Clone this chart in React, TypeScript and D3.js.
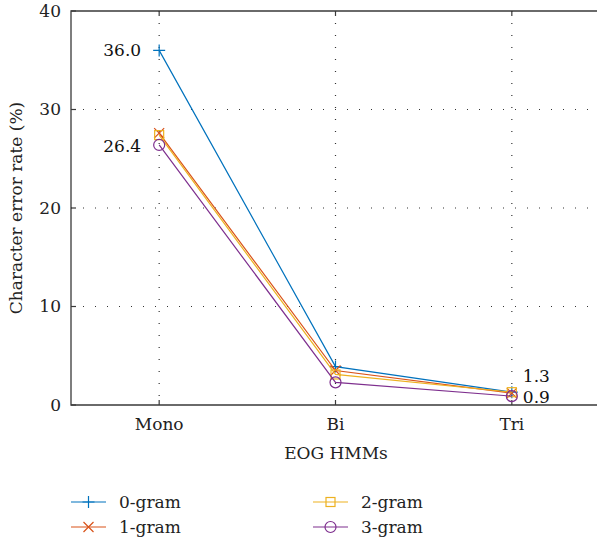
import React from "react";
import * as d3 from "d3";

const categories = ["Mono", "Bi", "Tri"];
const seriesNames = ["0-gram", "1-gram", "2-gram", "3-gram"];
const gram0 = [36.0, 3.9, 1.3];
const gram1 = [27.6, 3.5, 1.2];
const gram2 = [27.4, 3.1, 1.3];
const gram3 = [26.4, 2.3, 0.9];
const yTicks = [0, 10, 20, 30, 40];

const colors = ["#0072BD", "#D95319", "#EDB120", "#7E2F8E"];
const markers = ["plus", "cross", "square", "circle"];
const font = "DejaVu Serif";
const fs = 17;

const W = 597;
const H = 538;
const margin = { left: 71, top: 11, right: 600, bottom: 405 };

const Marker = ({ type, x, y, color }: { type: string; x: number; y: number; color: string }) => {
  if (type === "plus")
    return <path d={`M${x - 6},${y}H${x + 6}M${x},${y - 6}V${y + 6}`} stroke={color} strokeWidth={1.2} fill="none" />;
  if (type === "cross")
    return <path d={`M${x - 5},${y - 5}L${x + 5},${y + 5}M${x - 5},${y + 5}L${x + 5},${y - 5}`} stroke={color} strokeWidth={1.2} fill="none" />;
  if (type === "square")
    return <rect x={x - 4.5} y={y - 4.5} width={9} height={9} stroke={color} strokeWidth={1.2} fill="none" />;
  return <circle cx={x} cy={y} r={5.5} stroke={color} strokeWidth={1.2} fill="none" />;
};

const T = (props: any) => <text fontFamily={font} fontSize={fs} fill="#222" {...props} />;

export default function App() {
  const series = [gram0, gram1, gram2, gram3];
  const x = d3.scaleLinear().domain([0.5, 3.5]).range([margin.left, margin.right]);
  const y = d3.scaleLinear().domain([0, 40]).range([margin.bottom, margin.top]);
  const line = d3
    .line<number>()
    .x((_, i) => x(i + 1))
    .y((d) => y(d));

  return (
    <div style={{ position: "absolute", left: 0, top: 0 }}>
      <svg width={W} height={H} style={{ display: "block" }}>
        <rect width={W} height={H} fill="#fff" />
        {/* grid */}
        {yTicks.slice(1, -1).map((t) => (
          <line key={t} x1={margin.left} x2={margin.right} y1={y(t)} y2={y(t)} stroke="#333" strokeDasharray="1,11" strokeWidth={1.2} />
        ))}
        {categories.map((c, i) => (
          <line key={c} x1={x(i + 1)} x2={x(i + 1)} y1={margin.top} y2={margin.bottom} stroke="#333" strokeDasharray="1,11" strokeWidth={1.2} />
        ))}
        {/* axes */}
        <path
          d={`M${margin.right},${margin.top}H${margin.left}V${margin.bottom}H${margin.right}`}
          fill="none"
          stroke="#3a3a3a"
          strokeWidth={1.3}
        />
        {categories.map((c, i) => (
          <g key={c}>
            <line x1={x(i + 1)} x2={x(i + 1)} y1={margin.bottom} y2={margin.bottom - 5} stroke="#3a3a3a" strokeWidth={1.2} />
            <line x1={x(i + 1)} x2={x(i + 1)} y1={margin.top} y2={margin.top + 5} stroke="#3a3a3a" strokeWidth={1.2} />
            <T x={x(i + 1)} y={margin.bottom + 25} textAnchor="middle">
              {c}
            </T>
          </g>
        ))}
        {yTicks.map((t) => (
          <g key={t}>
            <line x1={margin.left} x2={margin.left + 5} y1={y(t)} y2={y(t)} stroke="#3a3a3a" strokeWidth={1.2} />
            <T x={margin.left - 10} y={y(t)} dy="0.35em" textAnchor="end">
              {t}
            </T>
          </g>
        ))}
        <T x={336} y={459} textAnchor="middle">
          EOG HMMs
        </T>
        <T transform={`translate(22,${(margin.top + margin.bottom) / 2}) rotate(-90)`} textAnchor="middle">
          Character error rate (%)
        </T>
        {/* series */}
        {series.map((s, k) => (
          <g key={k}>
            <path d={line(s) || ""} fill="none" stroke={colors[k]} strokeWidth={1.2} />
            {s.map((v, i) => (
              <Marker key={i} type={markers[k]} x={x(i + 1)} y={y(v)} color={colors[k]} />
            ))}
          </g>
        ))}
        {/* value labels */}
        <T x={x(1) - 18} y={y(gram0[0])} dy="0.35em" textAnchor="end" fill="#111">
          {gram0[0].toFixed(1)}
        </T>
        <T x={x(1) - 18} y={y(gram3[0]) + 1} dy="0.35em" textAnchor="end" fill="#111">
          {gram3[0].toFixed(1)}
        </T>
        <T x={x(3) + 11} y={y(gram2[2]) - 16} dy="0.35em" fill="#111">
          {gram2[2].toFixed(1)}
        </T>
        <T x={x(3) + 11} y={y(gram3[2]) + 1} dy="0.35em" fill="#111">
          {gram3[2].toFixed(1)}
        </T>
        {/* legend */}
        {seriesNames.map((n, k) => {
          const lx = k < 2 ? 71 : 313;
          const ly = k % 2 === 0 ? 502 : 527;
          return (
            <g key={n}>
              <line x1={lx} x2={lx + 35} y1={ly} y2={ly} stroke={colors[k]} strokeWidth={1.2} />
              <Marker type={markers[k]} x={lx + 17.5} y={ly} color={colors[k]} />
              <T x={lx + 48} y={ly} dy="0.35em">
                {n}
              </T>
            </g>
          );
        })}
      </svg>
    </div>
  );
}
